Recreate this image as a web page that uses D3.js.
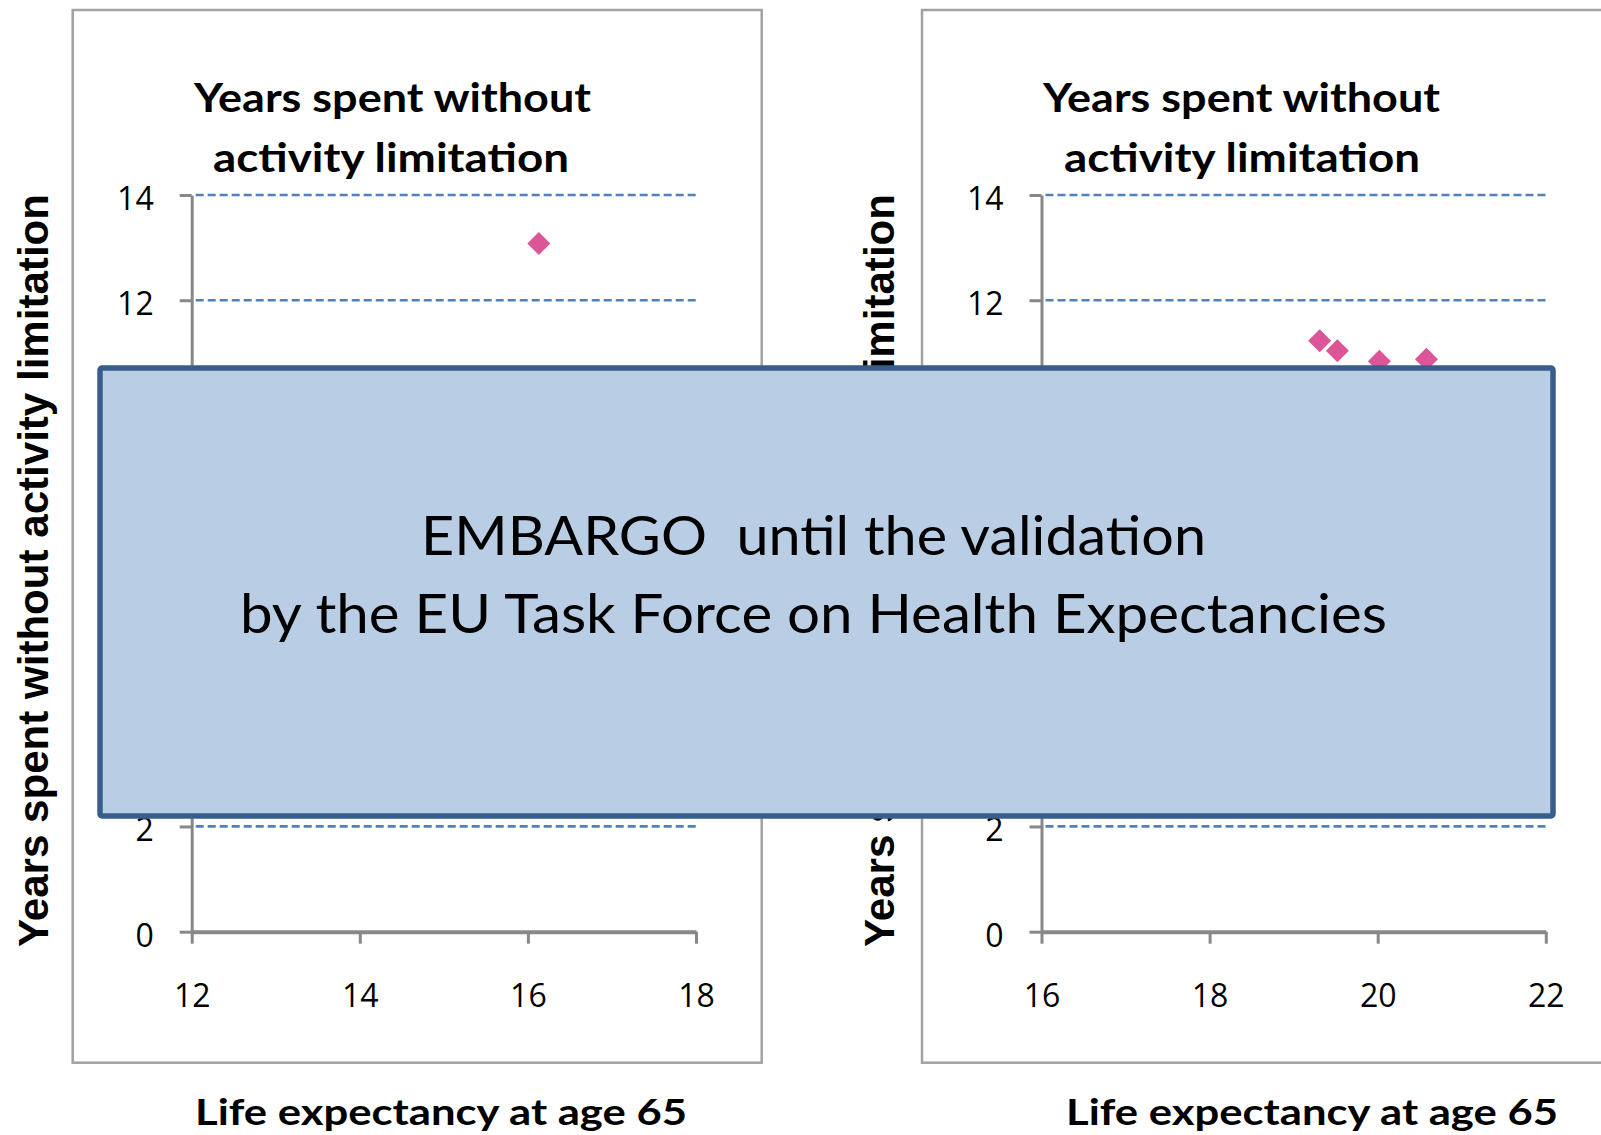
<!DOCTYPE html>
<html>
<head>
<meta charset="utf-8">
<script src="https://cdn.jsdelivr.net/npm/d3@7"></script>
<style>
html,body{margin:0;padding:0;background:#fff;overflow:hidden;}
svg{display:block;}
</style>
</head>
<body>
<svg id="chart" width="1601" height="1135"></svg>
<script>
// ---- data ----
const yTicks = [0, 2, 4, 6, 8, 10, 12, 14];
const leftXTicks = [12, 14, 16, 18];
const rightXTicks = [16, 18, 20, 22];
const leftLE = [16.13];            // life expectancy at 65 (left panel)
const leftYWAL = [13.08];          // years without activity limitation
const rightLE = [19.31, 19.52, 20.02, 20.58];
const rightYWAL = [11.23, 11.04, 10.84, 10.88];
const titleLines = ["Years spent without", "activity limitation"];
const xTitle = "Life expectancy at age 65";
const yTitle = "Years spent without activity limitation";
const embargoLines = ["EMBARGO\u00A0 until the validation", "by the EU Task Force on Health Expectancies"];

const svg = d3.select("#chart");
const TICK_FONT = "'Open Sans', sans-serif";
const TITLE_FONT = "Lato, 'Open Sans', sans-serif";

const y = d3.scaleLinear().domain([0, 14]).range([931.7, 195]);

function panel(opts) {
  const g = svg.append("g");
  const x = d3.scaleLinear().domain(opts.xDomain).range([opts.axisX, opts.axisX + 504.3]);
  // panel border
  g.append("rect")
    .attr("x", opts.border[0]).attr("y", opts.border[1])
    .attr("width", opts.border[2]).attr("height", opts.border[3])
    .attr("fill", "#fff").attr("stroke", "#a2a2a2").attr("stroke-width", 2.5);

  // y title (rotated)
  g.append("text")
    .attr("transform", `translate(${opts.yTitleX},570.5) rotate(-90)`)
    .attr("text-anchor", "middle")
    .attr("font-family", "'Liberation Sans', Arial, sans-serif")
    .attr("font-weight", "bold").attr("font-size", 42)
    .attr("textLength", 753).attr("lengthAdjust", "spacingAndGlyphs")
    .text(yTitle);

  // gridlines
  g.append("g").selectAll("line")
    .data(yTicks.filter(d => d > 0))
    .join("line")
    .attr("x1", x.range()[0] + 4).attr("x2", x.range()[1])
    .attr("y1", d => y(d)).attr("y2", d => y(d))
    .attr("stroke", "#4f81bd").attr("stroke-width", 2.7)
    .attr("stroke-dasharray", "8,4");

  // y axis
  const ya = g.append("g").attr("transform", `translate(${opts.axisX},0)`)
    .call(d3.axisLeft(y).tickValues(yTicks).tickSize(12).tickSizeOuter(0).tickPadding(26).tickFormat(d3.format("d")));
  ya.select(".domain").attr("stroke", "#888").attr("stroke-width", 3);
  ya.selectAll(".tick line").attr("stroke", "#888").attr("stroke-width", 3);
  ya.selectAll(".tick text").attr("font-family", TICK_FONT).attr("font-size", 32)
    .attr("fill", "#000").attr("dy", "0.45em");

  // x axis
  const xa = g.append("g").attr("transform", `translate(0,${y(0)})`)
    .call(d3.axisBottom(x).tickValues(opts.xTicks).tickSize(12).tickSizeOuter(0).tickPadding(41).tickFormat(d3.format("d")));
  xa.select(".domain").attr("stroke", "#888").attr("stroke-width", 4);
  xa.selectAll(".tick line").attr("stroke", "#888").attr("stroke-width", 3);
  xa.selectAll(".tick text").attr("font-family", TICK_FONT).attr("font-size", 32).attr("fill", "#000");

  // points
  const pts = opts.xs.map((v, i) => [v, opts.ys[i]]);
  g.append("g").selectAll("path")
    .data(pts).join("path")
    .attr("transform", d => `translate(${x(d[0])},${y(d[1])})`)
    .attr("d", "M0,-11.5L11.5,0L0,11.5L-11.5,0Z")
    .attr("fill", "#dc5597");

  // chart title
  titleLines.forEach((t, i) => {
    g.append("text")
      .attr("x", opts.titleX[i]).attr("y", [112, 171.7][i])
      .attr("font-family", TITLE_FONT).attr("font-weight", "bold").attr("font-size", 40)
      .attr("textLength", [397, 356][i]).attr("lengthAdjust", "spacingAndGlyphs")
      .text(t);
  });

  // x title
  g.append("text")
    .attr("x", opts.xTitleX).attr("y", 1125)
    .attr("font-family", TITLE_FONT).attr("font-weight", "bold").attr("font-size", 37)
    .attr("textLength", 492).attr("lengthAdjust", "spacingAndGlyphs")
    .text(xTitle);
}

panel({
  border: [72.7, 10, 689, 1052.7],
  axisX: 191.7, xDomain: [12, 18], xTicks: leftXTicks,
  xs: leftLE, ys: leftYWAL,
  yTitleX: 47.5, titleX: [194, 213], xTitleX: 195
});
panel({
  border: [922, 10, 760, 1052.7],
  axisX: 1041.5, xDomain: [16, 22], xTicks: rightXTicks,
  xs: rightLE, ys: rightYWAL,
  yTitleX: 894, titleX: [1043, 1064], xTitleX: 1066
});

// embargo box
const eb = svg.append("g");
eb.append("rect")
  .attr("x", 100).attr("y", 368).attr("width", 1453).attr("height", 448)
  .attr("rx", 2)
  .attr("fill", "#b9cde5").attr("stroke", "#385d8a").attr("stroke-width", 5.5);
embargoLines.forEach((t, i) => {
  eb.append("text")
    .attr("x", [421, 240][i]).attr("y", [555, 633][i])
    .attr("font-family", TITLE_FONT).attr("font-size", 54).attr("fill", "#000")
    .attr("textLength", [785, 1147][i]).attr("lengthAdjust", "spacingAndGlyphs")
    .text(t);
});
</script>
</body>
</html>
